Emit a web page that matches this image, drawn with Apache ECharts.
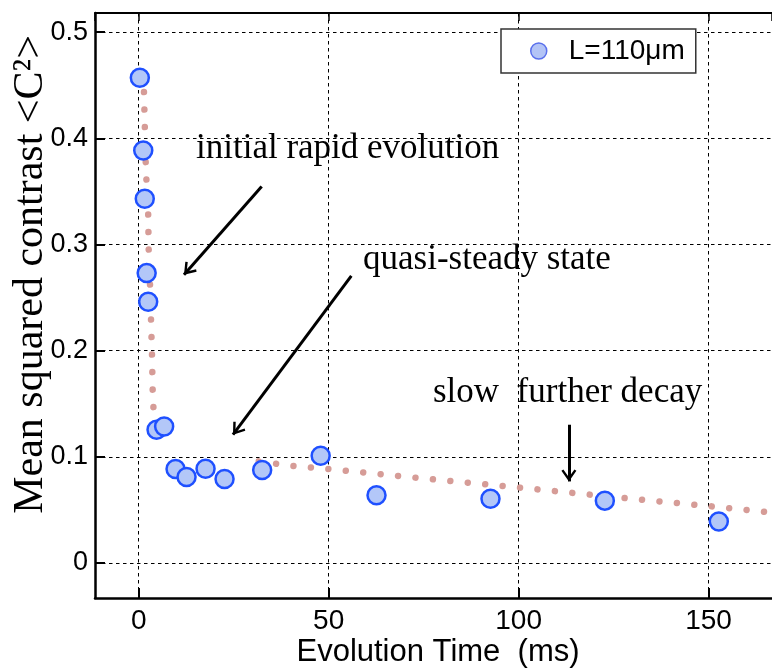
<!DOCTYPE html>
<html>
<head>
<meta charset="utf-8">
<script src="https://cdn.jsdelivr.net/npm/echarts@6/dist/echarts.min.js"></script>
<style>
  html, body { margin: 0; padding: 0; background: #fff; }
  #chart { width: 772px; height: 670px; }
</style>
</head>
<body>
<div id="chart"></div>
<script>
// Measured points: evolution time (ms) and mean squared contrast
const timeMs   = [0.3, 1.2, 1.6, 2.1, 2.5, 4.7, 6.7, 9.7, 12.6, 17.6, 22.6, 32.5, 47.9, 62.6, 92.6, 122.7, 152.7];
const contrast = [0.457, 0.3885, 0.343, 0.273, 0.246, 0.1255, 0.1285, 0.0885, 0.081, 0.0888, 0.079, 0.0875, 0.101, 0.0637, 0.0605, 0.0587, 0.039];

// Fitted (dotted) curve; null marks the gap
const fitTime  = [1.39, 1.84, 2.03, 2.5, 2.63, 2.97, 3.24, 3.5, 3.68, 3.87, 4.13, null, 31.6, 40, 50, 75, 100, 125, 150, 167];
const fitValue = [0.4435, 0.378, 0.361, 0.3286, 0.2953, 0.2637, 0.2294, 0.1968, 0.1632, 0.1475, 0.1142, null, 0.0957, 0.0916, 0.0885, 0.0796, 0.0711, 0.0621, 0.0536, 0.0474];

const seriesName = 'L=110μm';
const xTitle = 'Evolution Time  (ms)';
const yTitle = 'Mean squared contrast <C²>';

// Annotations: text and arrows (arrow start / tip in data units)
const notes = ['initial rapid evolution', 'quasi-steady state', 'slow  further decay'];
const arrowStart = [[32.37, 0.3546], [55.97, 0.2705], [113.24, 0.1302]];
const arrowTip   = [[11.92, 0.2715], [24.82, 0.1208], [113.24, 0.0768]];

const SANS = "'Liberation Sans', Arial, sans-serif";
const SERIF = "'Liberation Serif', 'Times New Roman', serif";

const scatterData = timeMs.map((t, i) => [t, contrast[i]]);
const fitData = fitTime.map((t, i) => (t === null ? ['-', '-'] : [t, fitValue[i]]));

const chevron = 'path://M10,1.1 L10.02,1.1 L10,1.12 Z M10,17 L20,31 L17.4,32.9 L10,22.5 L2.6,32.9 L0,31 Z';

const chart = echarts.init(document.getElementById('chart'), null, { renderer: 'canvas' });

chart.setOption({
  animation: false,
  backgroundColor: '#fff',
  grid: { left: 95, right: 0, top: 13, bottom: 72, containLabel: false, outerBoundsMode: 'none' },
  legend: {
    left: 501, top: 29,
    padding: [8, 11, 8, 29],
    borderColor: '#333', borderWidth: 1.5, backgroundColor: '#fff',
    itemWidth: 16, itemHeight: 16,
    icon: 'circle',
    textStyle: { fontFamily: SANS, fontSize: 28, color: '#000', padding: [0, 0, 0, 17], lineHeight: 27 },
    data: [{ name: seriesName, itemStyle: { color: '#b3c4f6', borderColor: '#5a70ec', borderWidth: 1.5 } }]
  },
  xAxis: [{
    type: 'value', position: 'bottom',
    min: -11.5, max: 166.7, splitNumber: 4, minInterval: 50, maxInterval: 50,
    axisLine: { show: true, onZero: false, lineStyle: { color: '#000', width: 2.5 } },
    axisTick: { show: true, inside: true, length: 10, lineStyle: { color: '#000', width: 2 } },
    axisLabel: { showMinLabel: false, showMaxLabel: false, margin: 9, fontFamily: SANS, fontSize: 28, color: '#000' },
    splitLine: { show: true, lineStyle: { color: '#000', width: 1, type: [3.5, 3.5] } },
    name: xTitle, nameLocation: 'middle', nameGap: 39, nameMoveOverlap: false,
    nameTextStyle: { fontFamily: SANS, fontSize: 31, color: '#000', padding: [0, 0, 0, 9] }
  }, {
    type: 'value', position: 'top',
    min: -11.5, max: 166.7, splitNumber: 4, minInterval: 50, maxInterval: 50,
    axisLine: { show: true, onZero: false, lineStyle: { color: '#000', width: 2 } },
    axisTick: { show: true, inside: true, length: 8, lineStyle: { color: '#000', width: 1.5 } },
    axisLabel: { show: false },
    splitLine: { show: false }
  }],
  yAxis: {
    type: 'value',
    min: -0.033, max: 0.518, splitNumber: 5, minInterval: 0.1, maxInterval: 0.1,
    axisLine: { show: true, onZero: false, lineStyle: { color: '#000', width: 2.5 } },
    axisTick: { show: true, inside: true, length: 10, lineStyle: { color: '#000', width: 2 } },
    axisLabel: { showMinLabel: false, showMaxLabel: false, margin: 7, fontFamily: SANS, fontSize: 27, color: '#000' },
    splitLine: { show: true, lineStyle: { color: '#000', width: 1, type: [3.5, 3.5] } },
    name: yTitle, nameLocation: 'middle', nameGap: 43, nameMoveOverlap: false,
    nameTextStyle: { fontFamily: SERIF, fontSize: 42, color: '#000', padding: [0, 0, 0, 62] }
  },
  series: [{
    name: 'fit', type: 'line', xAxisIndex: 0,
    data: fitData, showSymbol: false, symbol: 'none', connectNulls: false,
    lineStyle: { color: '#d69c97', width: 6.5, cap: 'round', type: [0.01, 17.5] },
    z: 2, silent: true
  }, {
    name: seriesName, type: 'scatter', xAxisIndex: 0,
    data: scatterData, symbol: 'circle', symbolSize: 18,
    itemStyle: { color: '#b3c7f8', borderColor: '#1f50ff', borderWidth: 2.5, opacity: 1 },
    z: 3,
    markLine: {
      silent: true, animation: false,
      symbol: ['none', chevron], symbolSize: [15, 24],
      label: { show: false },
      lineStyle: { color: '#000', width: 3, type: 'solid' },
      data: arrowStart.map((s, i) => [{ coord: s }, { coord: arrowTip[i] }])
    }
  }],
  graphic: [
    { type: 'text', left: 196, top: 131.5, style: { text: notes[0], font: '35px ' + SERIF, fill: '#000' } },
    { type: 'text', left: 363, top: 242.3, style: { text: notes[1], font: '35px ' + SERIF, fill: '#000' } },
    { type: 'text', left: 433, top: 375.6, style: { text: notes[2], font: '35px ' + SERIF, fill: '#000' } }
  ]
});
</script>
</body>
</html>
